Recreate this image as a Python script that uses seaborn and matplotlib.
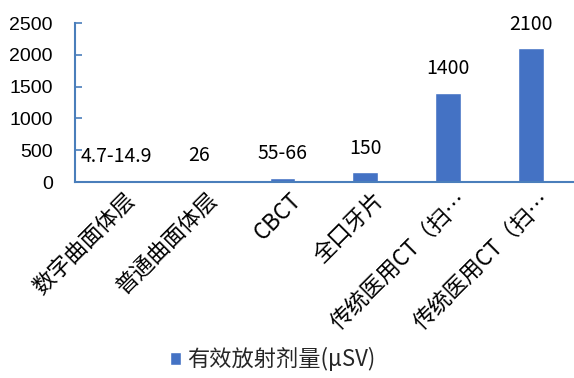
import numpy as np
import pandas as pd
import matplotlib
matplotlib.use('Agg')
import matplotlib.pyplot as plt
import matplotlib.transforms as mtransforms
import seaborn as sns

# ─── DATA ─────────────────────────────────────────────────
categories = ['数字曲面体层', '普通曲面体层', 'CBCT', '全口牙片',
              '传统医用CT（扫…', '传统医用CT（扫… ']
dose_values = [9.8, 26, 60.5, 150, 1400, 2100]
dose_labels = ['4.7-14.9', '26', '55-66', '150', '1400', '2100']
series_name = '有效放射剂量(μSV)'
y_ticks = [0, 500, 1000, 1500, 2000, 2500]

BAR_COLOR = '#4472C4'
AXIS_COLOR = '#4a7ebb'

# ─── STYLE ────────────────────────────────────────────────
sns.set_theme(style='white')
plt.rcParams['font.family'] = ['Noto Sans CJK SC', 'DejaVu Sans']

df = pd.DataFrame({'category': categories, 'dose': dose_values})

fig = plt.figure(figsize=(5.74, 3.78), dpi=100)
ax = fig.add_axes([0.1307, 0.5185, 0.867, 0.4205])

sns.barplot(data=df, x='category', y='dose', color=BAR_COLOR,
            width=0.31, saturation=1, ax=ax, label=series_name)
handles, labels = ax.get_legend_handles_labels()
if ax.get_legend() is not None:
    ax.get_legend().remove()

ax.set_xlim(-0.5, len(categories) - 0.5)
ax.set_ylim(0, 2500)
ax.set_yticks(y_ticks)
ax.set_yticklabels([str(t) for t in y_ticks], fontsize=14, color='black',
                   family=['Liberation Sans', 'DejaVu Sans'])
ax.set_xlabel('')
ax.set_ylabel('')

# value labels above bars
for i, (v, lab) in enumerate(zip(dose_values, dose_labels)):
    ax.annotate(lab, (i, v), xytext=(0, 10), textcoords='offset points',
                ha='center', va='bottom', fontsize=14, color='black')

# category labels
ax.set_xticks(range(len(categories)))
ax.set_xticklabels([c.strip() for c in categories], rotation=45, ha='right',
                   rotation_mode='anchor', fontsize=16, color='black')
ax.tick_params(axis='x', which='major', length=0, pad=6)
shift = mtransforms.ScaledTranslation(7 / 100, 2 / 100, fig.dpi_scale_trans)
for lbl in ax.get_xticklabels():
    lbl.set_transform(lbl.get_transform() + shift)
ax.set_xticks(np.arange(0.5, len(categories), 1.0), minor=True)
ax.tick_params(axis='x', which='minor', direction='in', length=5,
               color=AXIS_COLOR, width=1.2)
ax.tick_params(axis='y', direction='in', length=5, color=AXIS_COLOR,
               width=1.2, left=True, pad=16)

for side in ['top', 'right']:
    ax.spines[side].set_visible(False)
for side in ['left', 'bottom']:
    ax.spines[side].set_color(AXIS_COLOR)
    ax.spines[side].set_linewidth(1.5)

fig.legend(handles, labels, loc='center', bbox_to_anchor=(0.475, 0.05),
           frameon=False, fontsize=16, handlelength=0.5, handleheight=0.5,
           handletextpad=0.3)

plt.savefig('out.png', dpi=100)
plt.close()
